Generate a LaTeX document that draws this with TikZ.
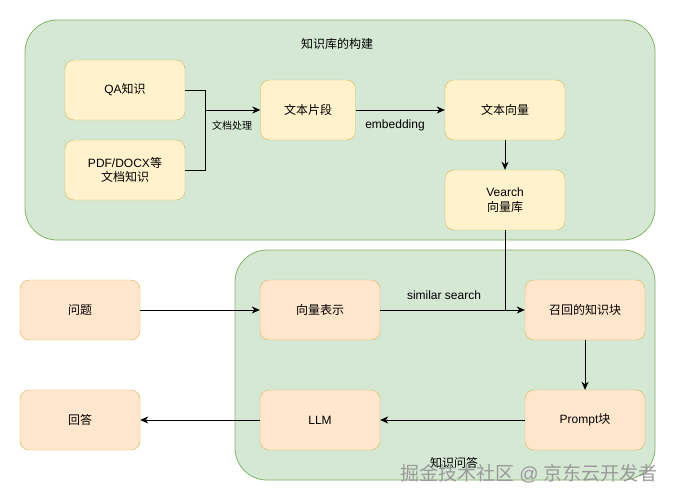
\documentclass[tikz,border=0pt]{standalone}
\usepackage{fontspec}
\setmainfont{Liberation Sans}
\newfontfamily\cjk{Noto Sans CJK SC}
\usetikzlibrary{arrows.meta}
\definecolor{grpfill}{HTML}{D5E8D4}
\definecolor{grpline}{HTML}{82B366}
\definecolor{ylwfill}{HTML}{FFF2CC}
\definecolor{orgfill}{HTML}{FFE6CC}
\definecolor{boxline}{HTML}{D6B656}

\begin{document}
\begin{tikzpicture}[x=1pt,y=-1pt,
    grp/.style={draw=grpline,fill=grpfill,rounded corners=32pt,line width=0.8pt},
    box/.style={draw=boxline,rounded corners=9pt,minimum width=120pt,minimum height=60pt,
        inner sep=0pt,align=center,font=\fontsize{12}{14.6}\selectfont},
    ybox/.style={box,fill=ylwfill},
    obox/.style={box,fill=orgfill},
    lbl/.style={font=\fontsize{12}{14}\selectfont},
    arr/.style={-{Stealth[length=8pt,width=7pt,inset=2.5pt]},line width=0.9pt},
    ln/.style={line width=0.9pt}]
    \useasboundingbox (0,0) rectangle (676,501);
    % groups
    \draw[grp] (25,20) rectangle (655,240);
    \draw[grp] (235,250) rectangle (655,480);
    \node[lbl] (tbuild) at (337,44) {\cjk 知识库的构建};
    \node[lbl] (tqa) at (454,463) {\cjk 知识问答};
    % knowledge base
    \node[ybox] (qa) at (125,90) {QA{\cjk 知识}};
    \node[ybox] (pdf) at (125,170) {PDF/DOCX{\cjk 等}\\{\cjk 文档知识}};
    \node[ybox,minimum width=95pt] (seg) at (308,110) {\cjk 文本片段};
    \node[ybox] (vec) at (505,110) {\cjk 文本向量};
    \node[ybox] (db) at (505,200) {Vearch\\{\cjk 向量库}};
    % question answering
    \node[obox] (ask) at (80,310) {\cjk 问题};
    \node[obox] (ans) at (80,420) {\cjk 回答};
    \node[obox] (emb) at (320,310) {\cjk 向量表示};
    \node[obox] (rec) at (585,310) {\cjk 召回的知识块};
    \node[obox] (llm) at (320,420) {LLM};
    \node[obox] (prm) at (585,420) {Prompt{\cjk 块}};
    % connectors
    \coordinate (mrg) at (205,110);
    \draw[ln] (qa.east) -| (mrg);
    \draw[ln] (pdf.east) -| (mrg);
    \draw[arr] (mrg) -- (seg.west);
    \node[font=\fontsize{10}{12}\selectfont] (tdoc) at (232,126) {\cjk 文档处理};
    \draw[arr] (seg.east) -- (vec.west);
    \node[lbl] (temb) at (395,125) {embedding};
    \draw[arr] (vec.south) -- (db.north);
    \coordinate (hit) at (db.south |- rec.west);
    \draw[ln] (db.south) -- (hit);
    \draw[arr] (emb.east) -- (rec.west);
    \node[lbl] (tsim) at (444,295) {similar search};
    \draw[arr] (ask.east) -- (emb.west);
    \draw[arr] (rec.south) -- (prm.north);
    \draw[arr] (prm.west) -- (llm.east);
    \draw[arr] (llm.west) -- (ans.east);
    % watermark
    \node[font=\fontsize{19}{21}\selectfont,text=black!40] (wm) at (529,474) {{\cjk 掘金技术社区} @ {\cjk 京东云开发者}};
\end{tikzpicture}
\end{document}
